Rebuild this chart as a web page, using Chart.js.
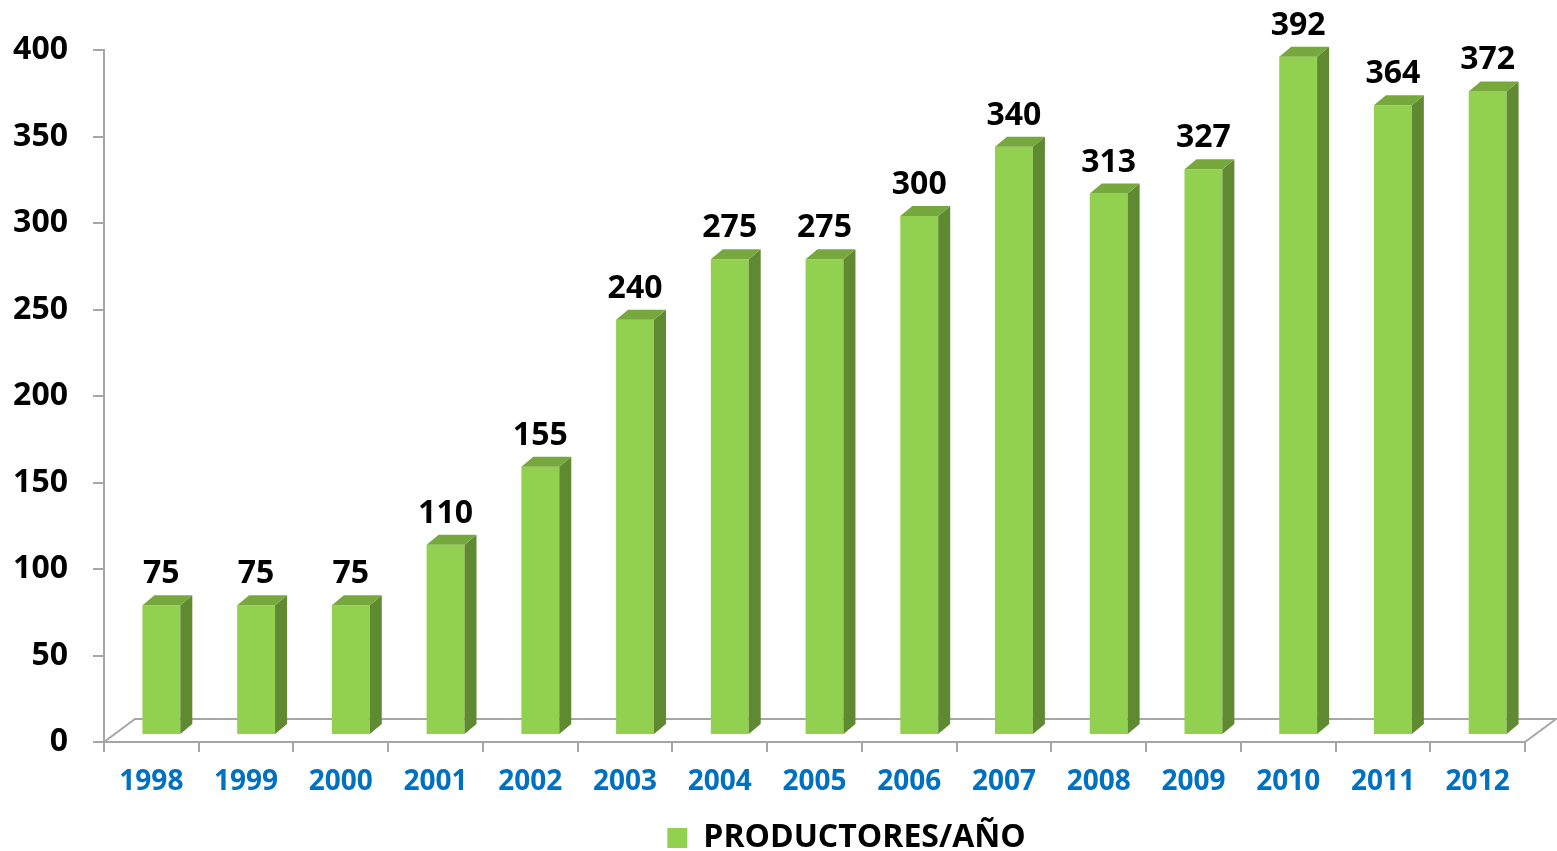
<!DOCTYPE html>
<html>
<head>
<meta charset="utf-8">
<script src="https://cdn.jsdelivr.net/npm/chart.js@4.4.1/dist/chart.umd.min.js"></script>
<style>
  html, body { margin: 0; padding: 0; background: #fff; }
</style>
</head>
<body>
<canvas id="chart" width="1557" height="851"></canvas>
<script>
// Chart data
const years = ['1998', '1999', '2000', '2001', '2002', '2003', '2004', '2005',
               '2006', '2007', '2008', '2009', '2010', '2011', '2012'];
const productores = [75, 75, 75, 110, 155, 240, 275, 275, 300, 340, 313, 327, 392, 364, 372];
const seriesName = 'PRODUCTORES/AÑO';
const yMin = 0, yMax = 400, yStep = 50;

// 3D look
const frontColor = '#92D050';
const sideColor = '#5F8A32';
const topColor = '#76A83E';
const floorColor = '#A6A6A6';
const depthX = 12, depthY = 10;   // depth of each bar
const floorX = 31, floorY = 23;   // depth of the floor
const shiftX = 10, shiftY = 7;    // bars stand in the middle of the floor

const font = '"Open Sans", "Liberation Sans", sans-serif';

// Legend sits a bit right of the canvas centre and lower, like the original
const legendShift = { x: 84, y: 13 };

const moveLegend = {
  id: 'moveLegend',
  afterLayout(chart) {
    const lg = chart.legend;
    lg.left += legendShift.x;
    lg.right += legendShift.x;
    lg.top += legendShift.y;
    lg.bottom += legendShift.y;
  }
};

// Plugin that draws the floor, the bar sides/tops and the value labels
const bar3d = {
  id: 'bar3d',
  beforeDatasetsDraw(chart) {
    const ctx = chart.ctx;
    const a = chart.chartArea;
    ctx.save();
    ctx.strokeStyle = floorColor;
    ctx.lineWidth = 2;
    ctx.beginPath();
    ctx.moveTo(a.left, a.bottom);
    ctx.lineTo(a.left + floorX, a.bottom - floorY);
    ctx.lineTo(a.right + floorX, a.bottom - floorY);
    ctx.lineTo(a.right, a.bottom);
    ctx.stroke();
    ctx.restore();
    // shift the front faces back onto the floor
    ctx.save();
    ctx.translate(shiftX, -shiftY);
  },
  afterDatasetsDraw(chart) {
    const ctx = chart.ctx;
    ctx.restore();
    const meta = chart.getDatasetMeta(0);
    ctx.save();
    meta.data.forEach((bar, i) => {
      const p = bar.getProps(['x', 'y', 'base', 'width'], true);
      const x1 = p.x - p.width / 2 + shiftX;
      const x2 = p.x + p.width / 2 + shiftX;
      const top = p.y - shiftY;
      const bot = p.base - shiftY;

      // side face
      ctx.fillStyle = sideColor;
      ctx.beginPath();
      ctx.moveTo(x2, top);
      ctx.lineTo(x2 + depthX, top - depthY);
      ctx.lineTo(x2 + depthX, bot - depthY);
      ctx.lineTo(x2, bot);
      ctx.closePath();
      ctx.fill();

      // top face
      ctx.fillStyle = topColor;
      ctx.beginPath();
      ctx.moveTo(x1, top);
      ctx.lineTo(x1 + depthX, top - depthY);
      ctx.lineTo(x2 + depthX, top - depthY);
      ctx.lineTo(x2, top);
      ctx.closePath();
      ctx.fill();

      // value label
      ctx.fillStyle = '#000';
      ctx.font = 'bold 32px ' + font;
      ctx.textAlign = 'center';
      ctx.textBaseline = 'alphabetic';
      ctx.fillText(productores[i], p.x + shiftX, top - 22);
    });
    ctx.restore();
  }
};

const ctx = document.getElementById('chart').getContext('2d');
const chart = new Chart(ctx, {
  type: 'bar',
  data: {
    labels: years,
    datasets: [{
      label: seriesName,
      data: productores,
      backgroundColor: frontColor,
      borderWidth: 0,
      categoryPercentage: 1,
      barPercentage: 0.4
    }]
  },
  options: {
    responsive: false,
    animation: false,
    layout: {
      padding: { top: 50, right: 32, left: 0, bottom: 0 }
    },
    plugins: {
      legend: {
        position: 'bottom',
        labels: {
          boxWidth: 20,
          boxHeight: 20,
          padding: 8,
          color: '#000',
          font: { family: font, size: 32, weight: 'bold' }
        }
      },
      tooltip: { enabled: false }
    },
    scales: {
      x: {
        grid: {
          display: true,
          drawOnChartArea: false,
          drawTicks: true,
          tickLength: 10,
          color: floorColor,
          lineWidth: 2
        },
        border: { display: true, color: floorColor, width: 2 },
        ticks: {
          color: '#0070C0',
          padding: 13,
          font: { family: font, size: 28, weight: 'bold' }
        },
        afterFit: s => { s.height = 59; }
      },
      y: {
        min: yMin,
        max: yMax,
        ticks: {
          stepSize: yStep,
          color: '#000',
          padding: 25,
          font: { family: font, size: 32, weight: 'bold' }
        },
        grid: {
          display: true,
          drawOnChartArea: false,
          drawTicks: true,
          tickLength: 11,
          color: floorColor,
          lineWidth: 2
        },
        border: { display: true, color: floorColor, width: 2 },
        afterFit: s => { s.width = 104; }
      }
    }
  },
  plugins: [bar3d, moveLegend]
});
</script>
</body>
</html>
